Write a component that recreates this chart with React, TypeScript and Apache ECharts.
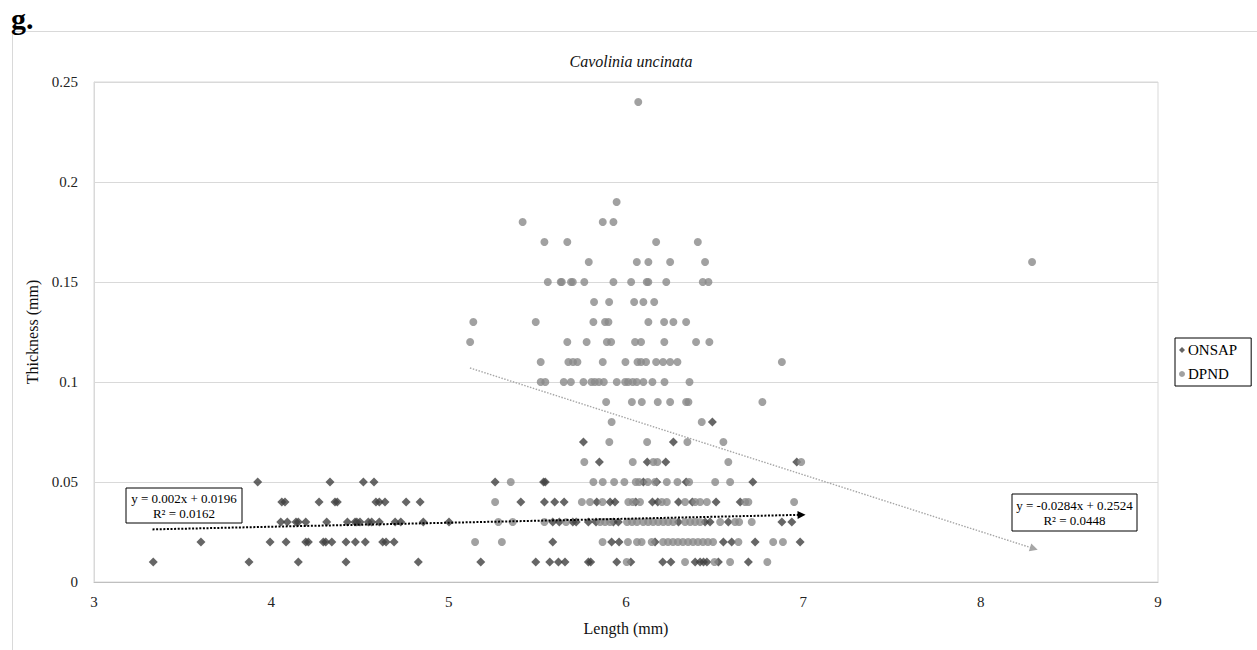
import React, { useEffect, useRef } from "react";
import * as echarts from "echarts";

const FONT = "Liberation Serif";

// Thickness level (mm) -> lengths (mm) of specimens at that level
const ONSAP_ROWS: Array<[number, number[]]> = [
  [0.01, [3.334, 3.874, 4.152, 4.421, 4.829, 5.181, 5.491, 5.57, 5.619, 5.656, 5.788, 5.801, 5.948, 6.027, 6.207, 6.253, 6.39, 6.418, 6.437, 6.456, 6.521, 6.69]],
  [0.02, [3.603, 3.993, 4.083, 4.194, 4.209, 4.293, 4.307, 4.341, 4.421, 4.474, 4.53, 4.628, 4.647, 4.692, 5.587, 5.919, 5.961, 6.164, 6.549, 6.596, 6.728, 6.982]],
  [0.03, [4.053, 4.09, 4.139, 4.152, 4.194, 4.312, 4.429, 4.472, 4.482, 4.5, 4.547, 4.566, 4.609, 4.698, 4.73, 4.857, 5.002, 5.587, 5.624, 5.7, 5.719, 5.788, 5.831, 5.929, 5.957, 6.296, 6.446, 6.474, 6.577, 6.879, 6.935]],
  [0.04, [4.059, 4.077, 4.269, 4.359, 4.372, 4.59, 4.609, 4.641, 4.76, 4.839, 5.407, 5.54, 5.598, 5.651, 5.835, 5.91, 5.938, 6.055, 6.149, 6.179, 6.296, 6.374, 6.508, 6.644]],
  [0.05, [3.923, 4.331, 4.519, 4.579, 5.262, 5.535, 5.545, 6.098, 6.173, 6.339, 6.715]],
  [0.06, [5.85, 6.12, 6.224, 6.963]],
  [0.07, [5.76, 6.267]],
  [0.08, [6.487]],
];

const DPND_ROWS: Array<[number, number[]]> = [
  [0.01, [6.004, 6.333, 6.499, 6.587, 6.797]],
  [0.02, [5.149, 5.3, 5.868, 6.011, 6.062, 6.088, 6.145, 6.209, 6.237, 6.265, 6.293, 6.321, 6.35, 6.378, 6.406, 6.434, 6.462, 6.491, 6.634, 6.83, 6.885]],
  [0.03, [5.28, 5.361, 5.54, 5.662, 5.854, 5.882, 5.91, 6.006, 6.034, 6.062, 6.097, 6.125, 6.153, 6.182, 6.21, 6.238, 6.266, 6.333, 6.362, 6.39, 6.418, 6.531, 6.615, 6.638, 6.709]],
  [0.04, [5.262, 5.751, 5.797, 5.867, 6.013, 6.038, 6.079, 6.202, 6.23, 6.333, 6.39, 6.418, 6.456, 6.672, 6.69, 6.948]],
  [0.05, [5.35, 5.816, 5.869, 5.933, 5.991, 6.055, 6.074, 6.123, 6.164, 6.23, 6.29, 6.356, 6.503, 6.587]],
  [0.06, [5.765, 6.038, 6.154, 6.177, 6.577, 6.988]],
  [0.07, [5.906, 6.119, 6.346, 6.549]],
  [0.08, [5.919, 6.427]],
  [0.09, [5.888, 6.033, 6.089, 6.179, 6.249, 6.339, 6.352, 6.769]],
  [0.1, [5.519, 5.545, 5.649, 5.689, 5.76, 5.805, 5.824, 5.847, 5.875, 5.948, 5.995, 6.012, 6.038, 6.061, 6.098, 6.149, 6.217, 6.358]],
  [0.11, [5.519, 5.675, 5.701, 5.726, 5.869, 5.997, 6.065, 6.085, 6.113, 6.17, 6.209, 6.249, 6.29, 6.879]],
  [0.12, [5.121, 5.669, 5.778, 5.892, 5.916, 6.051, 6.085, 6.216, 6.395, 6.47]],
  [0.13, [5.139, 5.491, 5.816, 5.882, 5.901, 6.126, 6.215, 6.267, 6.339]],
  [0.14, [5.82, 5.905, 6.046, 6.098, 6.159]],
  [0.15, [5.559, 5.632, 5.638, 5.69, 5.7, 5.765, 5.929, 6.029, 6.117, 6.126, 6.227, 6.433, 6.465]],
  [0.16, [5.79, 6.061, 6.126, 6.249, 6.446, 8.29]],
  [0.17, [5.54, 5.669, 6.17, 6.405]],
  [0.18, [5.417, 5.869, 5.929]],
  [0.19, [5.947]],
  [0.24, [6.069]],
];

// Linear trendline endpoints [length, thickness]
const ONSAP_TREND: number[][] = [[3.33, 0.0263], [6.99, 0.0336]];
const DPND_TREND: number[][] = [[5.12, 0.107], [8.3, 0.0167]];

const ONSAP_EQ = ["y = 0.002x + 0.0196", "R² = 0.0162"];
const DPND_EQ = ["y = -0.0284x + 0.2524", "R² = 0.0448"];

const X_RANGE = [3, 9, 1];
const Y_RANGE = [0, 0.25, 0.05];

const toPoints = (rows: Array<[number, number[]]>) =>
  rows.flatMap(([y, xs]) => xs.map((x) => [x, y]));

export default function App() {
  const ref = useRef<HTMLDivElement>(null);

  useEffect(() => {
    if (!ref.current) return;
    const chart = echarts.init(ref.current, undefined, { renderer: "svg" });

    const eqBox = (x: number, y: number, w: number, h: number, lines: string[]) => ({
      type: "group",
      x,
      y,
      z: 100,
      children: [
        { type: "rect", shape: { x: 0, y: 0, width: w, height: h }, style: { fill: "#fff", stroke: "#000", lineWidth: 1 } },
        { type: "text", x: w / 2, y: h * 0.3, style: { text: lines[0], fontFamily: FONT, fontSize: 13, fill: "#000", align: "center", verticalAlign: "middle" } },
        { type: "text", x: w / 2, y: h * 0.72, style: { text: lines[1], fontFamily: FONT, fontSize: 13, fill: "#000", align: "center", verticalAlign: "middle" } },
      ],
    });

    chart.setOption({
      animation: false,
      backgroundColor: "#fff",
      title: {
        text: "Cavolinia uncinata",
        left: 626,
        textAlign: "center",
        top: 48,
        textStyle: { fontFamily: FONT, fontStyle: "italic", fontWeight: "normal", fontSize: 16, color: "#111" },
      },
      legend: {
        orient: "vertical",
        left: 1175,
        top: 338,
        padding: [4, 14, 4, 4],
        itemGap: 8,
        itemWidth: 6,
        itemHeight: 6,
        borderColor: "#000",
        borderWidth: 1,
        backgroundColor: "#fff",
        textStyle: { fontFamily: FONT, fontSize: 15, color: "#000", lineHeight: 16, padding: [0, 0, 0, -2] },
        data: ["ONSAP", "DPND"],
      },
      grid: {
        left: 94,
        right: 99,
        top: 82,
        bottom: 68,
        show: true,
        borderColor: "#d9d9d9",
        borderWidth: 1,
      },
      xAxis: {
        type: "value",
        min: X_RANGE[0],
        max: X_RANGE[1],
        interval: X_RANGE[2],
        name: "Length (mm)",
        nameLocation: "middle",
        nameGap: 38,
        nameTextStyle: { fontFamily: FONT, fontSize: 16, color: "#111" },
        axisLine: { show: true, lineStyle: { color: "#bfbfbf" } },
        axisTick: { show: false },
        axisLabel: { fontFamily: FONT, fontSize: 15, color: "#222", margin: 12 },
        splitLine: { show: false },
      },
      yAxis: {
        type: "value",
        min: Y_RANGE[0],
        max: Y_RANGE[1],
        interval: Y_RANGE[2],
        name: "Thickness (mm)",
        nameLocation: "middle",
        nameGap: 42,
        nameTextStyle: { fontFamily: FONT, fontSize: 16, color: "#111" },
        axisLine: { show: true, lineStyle: { color: "#d9d9d9" } },
        axisTick: { show: false },
        axisLabel: { fontFamily: FONT, fontSize: 15, color: "#222", margin: 16 },
        splitLine: { show: true, lineStyle: { color: "#d9d9d9" } },
      },
      graphic: [
        {
          type: "rect",
          z: -10,
          silent: true,
          shape: { x: 12.5, y: 31.5, width: 1260, height: 640 },
          style: { fill: "none", stroke: "#d9d9d9", lineWidth: 1 },
        },
        {
          type: "text",
          x: 11,
          y: 3,
          style: { text: "g.", fontFamily: FONT, fontSize: 30, fontWeight: "bold", fill: "#000" },
        },
        eqBox(126, 488, 116, 35, ONSAP_EQ),
        eqBox(1012, 494, 125, 37, DPND_EQ),
      ],
      series: [
        {
          name: "ONSAP",
          type: "scatter",
          symbol: "diamond",
          symbolSize: 9,
          itemStyle: { color: "#404040" },
          data: toPoints(ONSAP_ROWS),
          markLine: {
            silent: true,
            symbol: ["none", "triangle"],
            symbolSize: 8,
            label: { show: false },
            lineStyle: { color: "#000", width: 2, type: [2, 1.6] },
            data: [[{ coord: ONSAP_TREND[0] }, { coord: ONSAP_TREND[1] }]],
          },
        },
        {
          name: "DPND",
          type: "scatter",
          symbol: "circle",
          symbolSize: 8,
          itemStyle: { color: "#8a8a8a" },
          data: toPoints(DPND_ROWS),
          markLine: {
            silent: true,
            symbol: ["none", "triangle"],
            symbolSize: 8,
            label: { show: false },
            lineStyle: { color: "#a6a6a6", width: 1.4, type: [1.5, 1.5] },
            data: [[{ coord: DPND_TREND[0] }, { coord: DPND_TREND[1] }]],
          },
        },
      ],
    });

    return () => chart.dispose();
  }, []);

  return (
    <div
      ref={ref}
      style={{ position: "fixed", left: 0, top: 0, width: 1257, height: 650 }}
    />
  );
}
